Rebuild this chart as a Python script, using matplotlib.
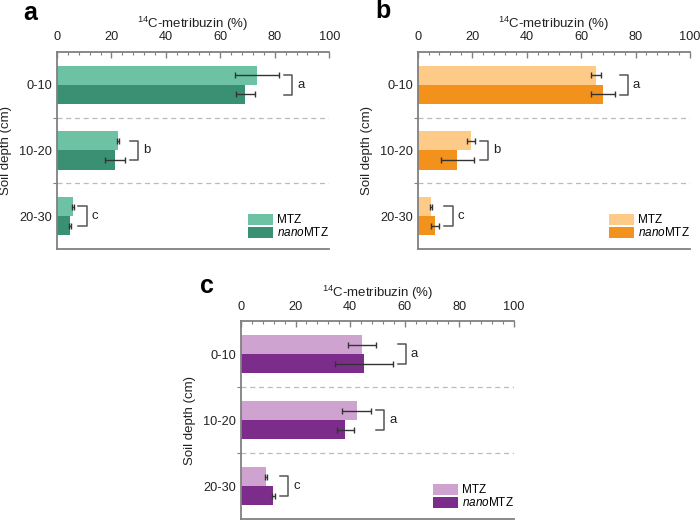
import numpy as np
import matplotlib
matplotlib.use('Agg')
import matplotlib.pyplot as plt
from matplotlib.ticker import MultipleLocator, FixedLocator
from matplotlib.transforms import ScaledTranslation

plt.rcParams['font.family'] = ['Liberation Sans', 'DejaVu Sans']
plt.rcParams['mathtext.fontset'] = 'custom'
plt.rcParams['mathtext.rm'] = 'Liberation Sans'
plt.rcParams['mathtext.it'] = 'Liberation Sans:italic'
plt.rcParams['font.size'] = 9

# data (percent of 14C-metribuzin per soil layer)
depths = ['0-10', '10-20', '20-30']
series = ['MTZ', '$\\it{nano}$MTZ']

a_mtz = [73.4, 22.5, 5.8]
a_mtz_err = [8.2, 0.3, 0.3]
a_nano = [69.2, 21.4, 4.7]
a_nano_err = [3.5, 3.6, 0.3]
a_letters = ['a', 'b', 'c']

b_mtz = [65.6, 19.7, 5.0]
b_mtz_err = [1.9, 1.5, 0.3]
b_nano = [68.0, 14.6, 6.5]
b_nano_err = [4.4, 6.0, 1.5]
b_letters = ['a', 'b', 'c']

c_mtz = [44.4, 42.5, 9.2]
c_mtz_err = [5.1, 5.3, 0.5]
c_nano = [45.0, 38.3, 11.9]
c_nano_err = [10.6, 3.0, 0.6]
c_letters = ['a', 'a', 'c']

colors_a = ['#6dc2a3', '#3a9073']
colors_b = ['#fdca88', '#f2921d']
colors_c = ['#cfa3cf', '#7c2d8c']

spine_col = '#808080'
bh = 0.29

fig = plt.figure(figsize=(7, 5.2), dpi=100)


def panel(ax, mtz, mtz_err, nano, nano_err, letters, colors, tag, tag_xy):
    y = np.arange(len(depths))
    ax.barh(y - bh / 2, mtz, height=bh, color=colors[0], label=series[0])
    ax.barh(y + bh / 2, nano, height=bh, color=colors[1], label=series[1])
    ax.errorbar(mtz, y - bh / 2, xerr=mtz_err, fmt='none', ecolor='#333333',
                elinewidth=1, capsize=2, capthick=1)
    ax.errorbar(nano, y + bh / 2, xerr=nano_err, fmt='none', ecolor='#333333',
                elinewidth=1, capsize=2, capthick=1)

    # significance brackets
    for i in range(len(depths)):
        xr = max(mtz[i] + mtz_err[i], nano[i] + nano_err[i]) + 1.8
        ax.plot([xr, xr + 3, xr + 3, xr], [i - 0.15, i - 0.15, i + 0.15, i + 0.15],
                color='#555555', lw=1.1)
        ax.text(xr + 4.8, i, letters[i], va='center', ha='left', fontsize=9.5,
                color='#222222')

    for yb in [0.5, 1.5]:
        ax.axhline(yb, color='#bbbbbb', lw=0.9, ls=(0, (4, 3)))

    ax.set_xlim(0, 100)
    ax.set_ylim(2.5, -0.5)
    ax.xaxis.set_ticks_position('top')
    ax.xaxis.set_label_position('top')
    ax.xaxis.set_major_locator(MultipleLocator(20))
    ax.xaxis.set_minor_locator(MultipleLocator(4))
    ax.tick_params(axis='x', which='major', direction='in', length=4, width=1,
                   color=spine_col, pad=6, labelsize=9.2, labelcolor='#222222')
    ax.tick_params(axis='x', which='minor', direction='in', length=2.5, width=0.8,
                   color=spine_col)
    ax.set_yticks(np.arange(len(depths)))
    ax.set_yticklabels(depths)
    ax.yaxis.set_minor_locator(FixedLocator([0.5, 1.5]))
    ax.tick_params(axis='y', which='major', length=0, pad=3.5, labelsize=9.2,
                   labelcolor='#222222')
    ax.tick_params(axis='y', which='minor', direction='out', length=3, width=0.8,
                   color=spine_col)
    ax.set_xlabel('$^{14}$C-metribuzin (%)', fontsize=9.5, labelpad=2.5, color='#222222')
    ax.set_ylabel('Soil depth (cm)', fontsize=9.5, labelpad=5, color='#222222')

    # keep the "100" label inside the panel like the original
    last = ax.get_xticklabels()[-1]
    last.set_horizontalalignment('right')
    last.set_transform(last.get_transform() + ScaledTranslation(2 / 72, 0, fig.dpi_scale_trans))

    ax.spines['right'].set_visible(False)
    for s in ['top', 'left', 'bottom']:
        ax.spines[s].set_color(spine_col)
        ax.spines[s].set_linewidth(1.3)

    ax.legend(loc='lower right', bbox_to_anchor=(1.0, 0.05), frameon=False,
              handlelength=2.1, handleheight=1.1, labelspacing=0.0,
              handletextpad=0.35, borderpad=0, borderaxespad=0, fontsize=8.5)
    ax.text(tag_xy[0], tag_xy[1], tag, transform=ax.transAxes, fontsize=18,
            fontweight='bold', va='baseline', ha='left')


ax_a = fig.add_axes([0.0814, 0.5206, 0.389, 0.38])
ax_b = fig.add_axes([0.5967, 0.5206, 0.389, 0.38])
ax_c = fig.add_axes([0.3443, 0.0015, 0.3896, 0.381])

panel(ax_a, a_mtz, a_mtz_err, a_nano, a_nano_err, a_letters, colors_a, 'a', (-0.125, 1.16))
panel(ax_b, b_mtz, b_mtz_err, b_nano, b_nano_err, b_letters, colors_b, 'b', (-0.157, 1.17))
panel(ax_c, c_mtz, c_mtz_err, c_nano, c_nano_err, c_letters, colors_c, 'c', (-0.15, 1.14))

fig.savefig('out.png', dpi=100)
